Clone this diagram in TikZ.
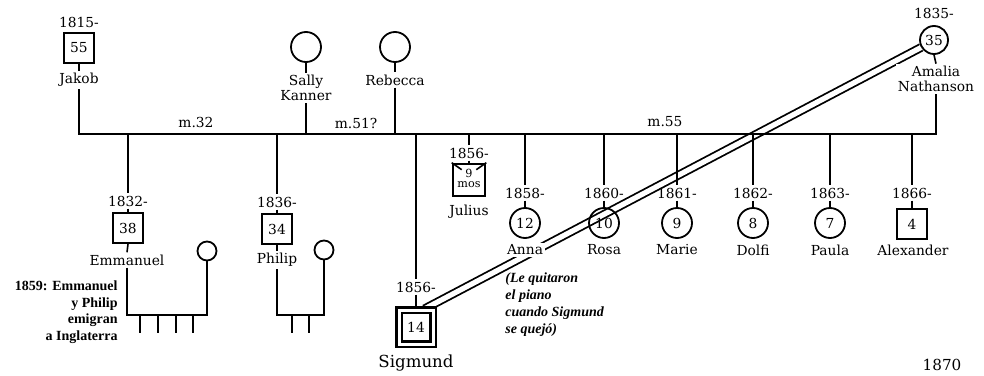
\documentclass[tikz,border=0pt]{standalone}
\usepackage{fontspec}
\setmainfont{DejaVu Serif}
\newfontfamily\notefont{Liberation Serif}
\usetikzlibrary{backgrounds}

\begin{document}
\begin{tikzpicture}[x=0.5pt,y=-0.5pt,font=\fontsize{6.9}{7.6}\selectfont]
    \tikzset{
        male/.style={draw,line width=1pt,minimum size=15pt,inner sep=0pt},
        female/.style={draw,circle,line width=0.9pt,minimum size=15pt,inner sep=0pt},
        spouse/.style={draw,circle,line width=0.9pt,minimum size=9.5pt,inner sep=0pt},
        egobox/.style={draw,line width=1.1pt,double distance=1.5pt,
            minimum size=17pt,inner sep=0pt},
        yearlbl/.style={inner sep=1pt},
        namelbl/.style={inner sep=1pt,align=center,fill=white},
        marr/.style={inner sep=1pt},
        link/.style={line width=0.8pt},
        tie/.style={line width=0.9pt,double distance=2.6pt}
    }
    \useasboundingbox (0,0) rectangle (984,375);

    \coordinate (bar) at (0,134);
    \coordinate (famline) at (0,315);

    % parents
    \node[yearlbl] (jakob-yr) at (79,22) {1815-};
    \node[male,line width=1.4pt] (jakob) at (79,48) {55};
    \node[namelbl] (jakob-nm) at (79,80) {Jakob};

    \node[female] (sally) at (306,47) {};
    \node[namelbl] (sally-nm) at (306,88) {Sally\\Kanner};

    \node[female] (rebecca) at (395,47) {};
    \node[namelbl] (rebecca-nm) at (395,80) {Rebecca};

    \node[yearlbl] (amalia-yr) at (934,13) {1835-};
    \node[female,minimum size=14pt] (amalia) at (934,40) {35};
    \node[namelbl] (amalia-nm) at (936,79) {Amalia\\Nathanson};

    \node[marr] (m32) at (196,122) {m.32};
    \node[marr] (m51) at (356,123) {m.51?};
    \node[marr] (m55) at (665,122) {m.55};

    % children
    \node[yearlbl] (emmanuel-yr) at (128,201) {1832-};
    \node[male] (emmanuel) at (128,228) {38};
    \node[namelbl] (emmanuel-nm) at (127,260) {Emmanuel};
    \node[spouse] (emmanuel-w) at (207,251) {};

    \node[yearlbl] (philip-yr) at (277,202) {1836-};
    \node[male] (philip) at (277,229) {34};
    \node[namelbl] (philip-nm) at (277,260) {Philip};
    \node[spouse] (philip-w) at (324,250) {};

    \node[yearlbl] (sigmund-yr) at (416,287) {1856-};
    \node[egobox] (sigmund) at (416,327) {14};
    \node[namelbl,font=\fontsize{8.3}{9}\selectfont] (sigmund-nm) at (416,363) {Sigmund};

    \node[yearlbl] (julius-yr) at (469,153) {1856-};
    \node[male,line width=1.3pt,minimum size=16pt] (julius) at (469,180)
        {\fontsize{5.6}{5.2}\selectfont\begin{tabular}{@{}c@{}}9\\mos\end{tabular}};
    \node[namelbl] (julius-nm) at (469,212) {Julius};

    \node[yearlbl] (anna-yr) at (525,193) {1858-};
    \node[female] (anna) at (525,223) {12};
    \node[namelbl] (anna-nm) at (525,250) {Anna};

    \node[yearlbl] (rosa-yr) at (604,193) {1860-};
    \node[female] (rosa) at (604,223) {10};
    \node[namelbl] (rosa-nm) at (604,250) {Rosa};

    \node[yearlbl] (marie-yr) at (677,193) {1861-};
    \node[female] (marie) at (677,223) {9};
    \node[namelbl] (marie-nm) at (677,250) {Marie};

    \node[yearlbl] (dolfi-yr) at (753,193) {1862-};
    \node[female] (dolfi) at (753,223) {8};
    \node[namelbl] (dolfi-nm) at (753,250) {Dolfi};

    \node[yearlbl] (paula-yr) at (830,193) {1863-};
    \node[female] (paula) at (830,223) {7};
    \node[namelbl] (paula-nm) at (830,250) {Paula};

    \node[yearlbl] (alexander-yr) at (912,193) {1866-};
    \node[male] (alexander) at (912,224) {4};
    \node[namelbl] (alexander-nm) at (913,250) {Alexander};

    % notes
    \node[align=right,anchor=east,inner sep=0pt,
        font=\notefont\bfseries\fontsize{7}{8.3}\selectfont] (emigra) at (118,312)
        {1859: Emmanuel\\y Philip\\emigran\\a Inglaterra};
    \node[align=left,anchor=north west,inner sep=0pt,
        font=\notefont\bfseries\itshape\fontsize{7}{8.5}\selectfont] (piano) at (505,272)
        {(Le quitaron\\el piano\\cuando Sigmund\\se quejó)};
    \node[font=\fontsize{7.6}{8}\selectfont] (year) at (942,365) {1870};

    % parents to the bar
    \draw[link] (jakob.south) -- (jakob-nm.north);
    \draw[link] (jakob-nm.south) -- (jakob-nm.south |- bar) -| (amalia-nm.south);
    \draw[link] (amalia.south) -- (amalia-nm.north);
    \foreach \n in {sally,rebecca}{
        \draw[link] (\n.south) -- (\n-nm.north);
        \draw[link] (\n-nm.south) -- (\n-nm.south |- bar);
    }

    % bar to the children
    \foreach \n in {emmanuel,philip,sigmund,julius,anna,rosa,marie,dolfi,paula,alexander}{
        \draw[link] (\n-yr.north |- bar) -- (\n-yr.north);
        \draw[link] (\n-yr.south) -- (\n.north);
    }
    \draw[link] (julius.north west) -- ++(10,7);
    \draw[link] (julius.north east) -- ++(-10,7);

    % the two families in England
    \foreach \n in {emmanuel,philip}{
        \draw[link] (\n.south) -- (\n-nm.north);
        \draw[link] (\n-nm.south) -- (\n-nm.south |- famline) -| (\n-w.south);
    }
    \foreach \x [count=\i] in {140,158,176,193}{
        \coordinate (ekid\i) at (\x,333);
        \draw[link] (ekid\i |- famline) -- (ekid\i);
    }
    \foreach \x [count=\i] in {292,309}{
        \coordinate (pkid\i) at (\x,333);
        \draw[link] (pkid\i |- famline) -- (pkid\i);
    }

    \begin{pgfonlayer}{background}
        \draw[tie] (sigmund.65) -- (amalia.210);
    \end{pgfonlayer}
\end{tikzpicture}
\end{document}
